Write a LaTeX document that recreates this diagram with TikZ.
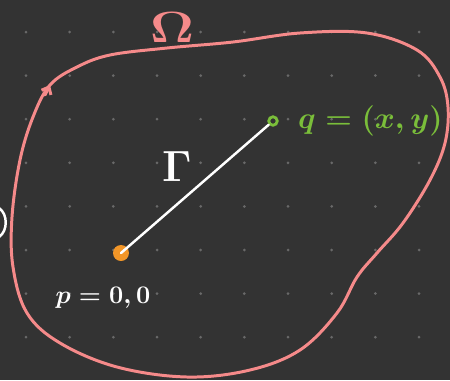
\documentclass[tikz,border=0pt]{standalone}
\usepackage{tikz}
\usetikzlibrary{arrows.meta,positioning}
\definecolor{bgdark}{RGB}{51,51,51}
\definecolor{griddot}{RGB}{105,105,105}
\definecolor{omegapink}{RGB}{245,138,138}
\definecolor{qgreen}{RGB}{122,190,58}
\definecolor{porange}{RGB}{242,150,40}

\begin{document}
\begin{tikzpicture}[
  x=0.02cm, y=-0.02cm,
  bound/.style={draw=omegapink, line width=1.7pt, line cap=round, line join=round},
  pdot/.style={circle, fill=porange, minimum size=0.32cm, inner sep=0pt},
  qdot/.style={circle, draw=qgreen, fill=bgdark, line width=1.6pt, minimum size=0.17cm, inner sep=0pt},
  curve/.style={draw=white, line width=1.4pt, line cap=round},
  lbl/.style={inner sep=0pt, execute at begin node=\boldmath}
]
\useasboundingbox (0,0) rectangle (450,380);
\fill[bgdark] (0,0) rectangle (450,380);
% dot grid
\foreach \i in {0,...,9}
  \foreach \j in {0,...,7}
    \fill[griddot] (26+43.67*\i,32+43.6*\j) circle (0.03cm);

% the region Omega
\draw[bound] plot[smooth cycle, tension=0.6] coordinates {(50,85) (77,67) (110,55) (167,48) (233,42) (300,33) (367,33) (417,50) (440,77) (448,107) (445,143) (430,180) (403,223) (377,253) (357,277) (337,313) (300,350) (250,370) (187,377) (117,367) (60,343) (27,313) (13,267) (12,217) (20,160) (33,117)};
\draw[bound, -{Straight Barb[length=3.5pt,width=6pt]}] (45,95) -- (50,85);
\node[lbl, text=omegapink, font=\fontsize{30}{32}\selectfont, xscale=1.25, transform shape] (omega) at (172,27) {$\Omega$};

% end points
\node[pdot] (p) at (121,253) {};
\node[qdot] (q) at (273,121) {};
\node[lbl, text=white, font=\fontsize{14}{16}\selectfont, below=0.5cm of p, xshift=-0.36cm] (plbl) {$p=0,0$};
\node[lbl, text=qgreen, font=\fontsize{18.5}{22}\selectfont, right=0.38cm of q] (qlbl) {$q=(x,y)$};

% path Gamma
\draw[curve] (p.center) -- node[lbl, above left=0.12cm and 0.04cm, text=white, font=\fontsize{28}{30}\selectfont] (gam) {$\Gamma$} (q);

% cut-off stroke at the left edge
\draw[curve] (-1,208) .. controls (8,214) and (8,231) .. (-1,237);
\end{tikzpicture}
\end{document}
